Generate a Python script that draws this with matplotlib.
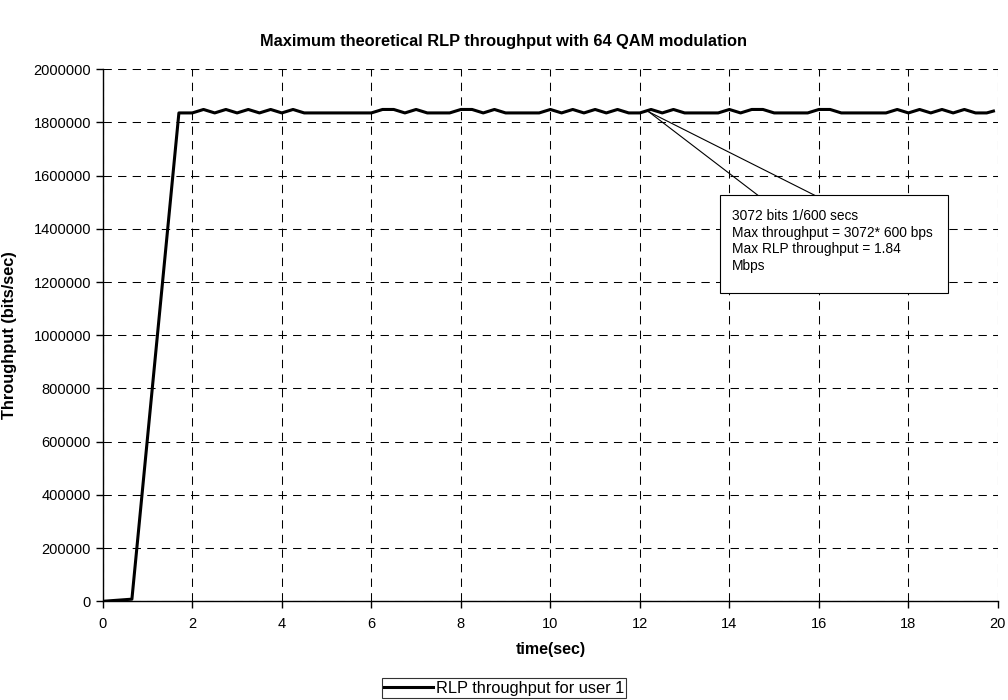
import numpy as np
import matplotlib
matplotlib.use("Agg")
import matplotlib.pyplot as plt
from matplotlib.patches import Rectangle
from matplotlib.ticker import FormatStrFormatter

plt.rcParams["font.family"] = ["Liberation Sans", "DejaVu Sans"]

# start-up ramp
ramp_t = [0.0, 0.65, 1.7]
ramp_v = [0, 8000, 1836000]

# steady state, sampled every 0.25 s from 1.75 s
LO = 1836000
HI = 1849000
steady_v = [
    LO, LO, HI, LO, HI, LO, HI, LO, HI, LO, HI, LO,   # 1.75 - 4.5
    LO, LO, LO, LO, LO, LO,                           # 4.75 - 6.0
    HI, HI, LO, HI, LO, LO, LO,                       # 6.25 - 7.75
    HI, HI, LO, HI, LO, LO, LO, LO,                   # 8.0 - 9.75
    HI, LO, HI, LO, HI, LO, HI, LO,                   # 10.0 - 11.75
    LO, HI, LO, HI, LO, LO, LO, LO,                   # 12.0 - 13.75
    HI, LO, HI, HI, LO, LO, LO, LO,                   # 14.0 - 15.75
    HI, HI, LO, LO, LO, LO, LO,                       # 16.0 - 17.5
    HI, LO, HI, LO, HI, LO, HI, LO, LO,               # 17.75 - 19.75
]
steady_t = 1.75 + 0.25 * np.arange(len(steady_v))

time = np.concatenate([ramp_t, steady_t, [19.9]])
thr = np.concatenate([ramp_v, steady_v, [1843000]])

title = "Maximum theoretical RLP throughput with 64 QAM modulation"
note = ("3072 bits 1/600 secs\n"
        "Max throughput = 3072* 600 bps\n"
        "Max RLP throughput = 1.84\n"
        "Mbps")

fig = plt.figure(figsize=(10.08, 7.0), dpi=100)
ax = fig.add_axes([0.102, 0.141, 0.888, 0.760])

ax.plot(time, thr, color="black", lw=2.2, label="RLP throughput for user 1", zorder=3)

ax.set_xlim(0, 20)
ax.set_ylim(0, 2000000)
ax.set_xticks(np.arange(0, 21, 2))
ax.set_yticks(np.arange(0, 2000001, 200000))
ax.yaxis.set_major_formatter(FormatStrFormatter("%d"))
ax.tick_params(labelsize=10.5, direction="out", length=5, width=1, colors="black")
ax.tick_params(axis="x", pad=6)
ax.grid(True, color="black", lw=0.75, linestyle=(0, (8, 6)))
ax.set_axisbelow(True)
for s in ["top", "right"]:
    ax.spines[s].set_visible(False)
for s in ["left", "bottom"]:
    ax.spines[s].set_linewidth(1.0)

ax.set_xlabel("time(sec)", fontsize=11.5, fontweight="bold")
ax.xaxis.set_label_coords(0.5, -0.077)
ax.set_ylabel("Throughput (bits/sec)", fontsize=11.8, fontweight="bold")
ax.yaxis.set_label_coords(-0.096, 0.5)
fig.text(0.5, 0.941, title, ha="center", va="center", fontsize=11.8, fontweight="bold")

# callout
anchor = (12.2, 1840000)
box_x0, box_x1 = 13.79, 18.88
box_y0, box_y1 = 1158000, 1526000
ax.plot([anchor[0], 14.64], [anchor[1], box_y1], color="black", lw=0.8, zorder=4)
ax.plot([anchor[0], 15.91], [anchor[1], box_y1], color="black", lw=0.8, zorder=4)
ax.add_patch(Rectangle((box_x0, box_y0), box_x1 - box_x0, box_y1 - box_y0,
                       facecolor="white", edgecolor="black", lw=0.8, zorder=5))
ax.text(box_x0 + 0.27, box_y1 - 52000, note, fontsize=9.9, va="top", ha="left",
        linespacing=1.24, zorder=6)

leg = fig.legend(loc="center", bbox_to_anchor=(0.5, 0.017), fontsize=11.8,
                 frameon=True, fancybox=False, edgecolor="black", handlelength=3.0,
                 borderpad=0.15, handletextpad=0.15, borderaxespad=0)
leg.get_frame().set_linewidth(0.8)

fig.savefig("out.png", dpi=100)
